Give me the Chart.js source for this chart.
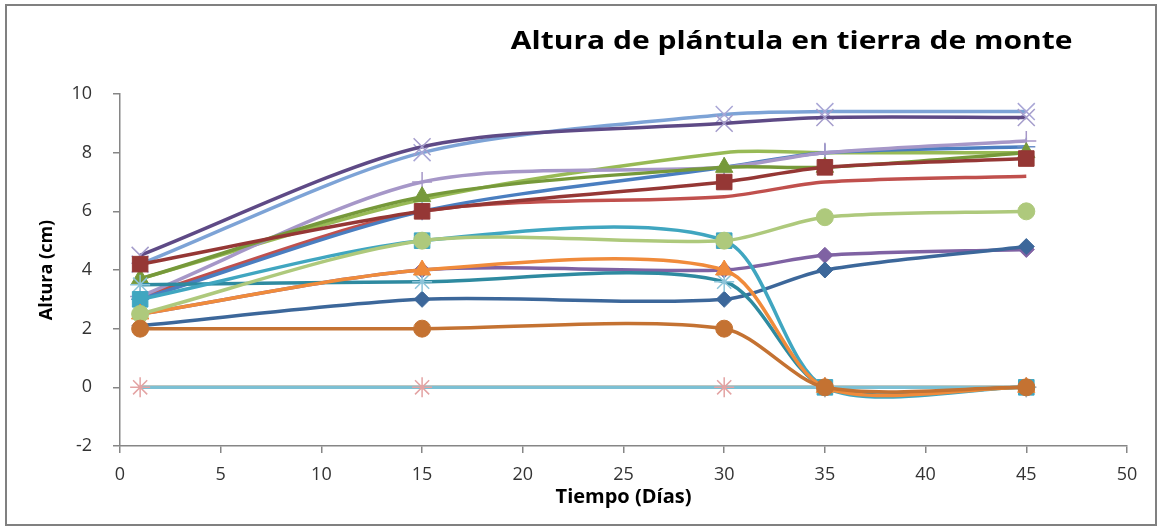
<!DOCTYPE html>
<html lang="es">
<head>
<meta charset="UTF-8">
<title>Altura de plántula en tierra de monte</title>
<script src="https://cdn.jsdelivr.net/npm/chart.js"></script>
<style>
    body {
        margin: 0;
        background: #fff;
    }

    .wrap {
        position: relative;
        width: 1161px;
        height: 527px;
    }

    .frame {
        position: absolute;
        left: 5px;
        top: 4px;
        width: 1152px;
        height: 522px;
        border: 2px solid #808080;
        box-sizing: border-box;
        pointer-events: none;
    }
</style>
</head>
<body>
<div class="wrap">
    <canvas id="chart" width="1161" height="527"></canvas>
    <div class="frame"></div>
</div>
<script>
    // Data (x = días, y = altura en cm)
    const dias = [1, 15, 30, 35, 45];

    const ceroA = [0, 0, 0, 0, 0];
    const ceroB = [0, 0, 0, 0, 0];
    const rojo = [3.1, 6, 6.5, 7, 7.2];
    const verde = [3.7, 6.4, 8, 8, 8];
    const azul = [3.0, 6, 7.5, 8, 8.2];
    const lilaClaro = [3.1, 7, 7.5, 8, 8.4];
    const azulClaro = [4.2, 8, 9.3, 9.4, 9.4];
    const moradoOscuro = [4.5, 8.2, 9, 9.2, 9.2];
    const verdeTriangulo = [3.7, 6.5, 7.5, 7.5, 8];
    const rojoCuadrado = [4.2, 6, 7, 7.5, 7.8];
    const moradoRombo = [2.5, 4, 4, 4.5, 4.7];
    const azulRombo = [2.1, 3, 3, 4, 4.8];
    const tealEstrella = [3.5, 3.6, 3.6, 0, 0];
    const aguaCuadrado = [3, 5, 5, 0, 0];
    const naranjaTriangulo = [2.5, 4, 4, 0, 0];
    const verdeClaroCirculo = [2.5, 5, 5, 5.8, 6];
    const naranjaCirculo = [2, 2, 2, 0, 0];

    const chartTitle = 'Altura de plántula en tierra de monte';
    const xTitle = 'Tiempo (Días)';
    const yTitle = 'Altura (cm)';

    // series listed bottom (drawn first) to top
    const series = [
        { label: 'Serie 1', values: ceroA, color: '#F7A56E', marker: false },
        { label: 'Serie 2', values: ceroB, color: '#7CC0D4', marker: 'star', mColor: '#E3A3A3', r: 10 },
        { label: 'Serie 3', values: rojo, color: '#C0504D', marker: false },
        { label: 'Serie 4', values: verde, color: '#98BA56', marker: false },
        { label: 'Serie 5', values: azul, color: '#4A7EC0', marker: 'cross', mColor: '#6C8FC8', r: 9 },
        { label: 'Serie 6', values: lilaClaro, color: '#A697C8', marker: 'cross', r: 10 },
        { label: 'Serie 7', values: azulClaro, color: '#7DA3D6', marker: 'crossRot', mColor: '#A9A6D6', r: 12 },
        { label: 'Serie 8', values: moradoOscuro, color: '#5E4A86', marker: 'crossRot', mColor: '#A49CCB', r: 12 },
        { label: 'Serie 9', values: verdeTriangulo, color: '#76993A', marker: 'triangle', r: 10 },
        { label: 'Serie 10', values: rojoCuadrado, color: '#953735', marker: 'rect', r: 11 },
        { label: 'Serie 11', values: moradoRombo, color: '#7F62A3', marker: 'rectRot', r: 8 },
        { label: 'Serie 12', values: azulRombo, color: '#3C679A', marker: 'rectRot', r: 8 },
        { label: 'Serie 13', values: tealEstrella, color: '#2E8AA0', marker: 'star', mColor: '#8CC4DA', r: 10 },
        { label: 'Serie 14', values: aguaCuadrado, color: '#40A6C0', marker: 'rect', r: 11 },
        { label: 'Serie 15', values: naranjaTriangulo, color: '#F08B3B', marker: 'triangle', r: 10 },
        { label: 'Serie 16', values: verdeClaroCirculo, color: '#AEC97C', marker: 'circle', r: 8.5 },
        { label: 'Serie 17', values: naranjaCirculo, color: '#C47232', marker: 'circle', r: 8.5 }
    ];

    const lineMarkers = ['star', 'cross', 'crossRot'];

    const datasets = series.map((s, i) => ({
        label: s.label,
        data: dias.map((d, j) => ({ x: d, y: s.values[j] })),
        borderColor: s.color,
        borderWidth: 3.5,
        tension: 0.28,
        fill: false,
        order: series.length - i,
        pointStyle: s.marker || 'circle',
        pointRadius: s.marker ? s.r : 0,
        pointBackgroundColor: s.mColor || s.color,
        pointBorderColor: s.mColor || s.color,
        pointBorderWidth: lineMarkers.includes(s.marker) ? 1.5 : 1
    }));

    // chart title sits right of centre and is drawn a bit wide, like the original
    const titleText = {
        id: 'titleText',
        afterDraw(chart) {
            const { ctx, chartArea } = chart;
            ctx.save();
            ctx.translate(chartArea.left + chartArea.width * 0.667, 42);
            ctx.scale(1.2, 1);
            ctx.font = 'bold 25px "Open Sans"';
            ctx.fillStyle = '#000';
            ctx.textAlign = 'center';
            ctx.textBaseline = 'middle';
            ctx.fillText(chartTitle, 0, 0);
            ctx.restore();
        }
    };

    const axisColor = '#868686';
    const tickFont = { family: '"Open Sans"', size: 18 };

    new Chart(document.getElementById('chart'), {
        type: 'line',
        data: { datasets: datasets },
        options: {
            responsive: false,
            animation: false,
            devicePixelRatio: 1,
            layout: { padding: { top: 94, right: 34, left: 0, bottom: 0 } },
            plugins: {
                legend: { display: false },
                tooltip: { enabled: false }
            },
            scales: {
                x: {
                    type: 'linear',
                    min: 0,
                    max: 50,
                    afterFit: (s) => { s.height = 81; },
                    ticks: { stepSize: 5, font: tickFont, color: '#333', padding: 11 },
                    grid: { drawOnChartArea: false, drawTicks: true, tickLength: 7, color: axisColor, lineWidth: 1.5 },
                    border: { color: axisColor, width: 1.5 },
                    title: { display: true, text: xTitle, font: { family: '"Open Sans"', size: 20, weight: 'bold' }, color: '#000', padding: { top: 0, bottom: 18 } }
                },
                y: {
                    min: -2,
                    max: 10,
                    afterFit: (s) => { s.width = 120; },
                    ticks: { stepSize: 2, font: tickFont, color: '#333', padding: 21 },
                    grid: { drawOnChartArea: false, drawTicks: true, tickLength: 7, color: axisColor, lineWidth: 1.5 },
                    border: { color: axisColor, width: 1.5 },
                    title: { display: true, text: yTitle, font: { family: '"Open Sans"', size: 18, weight: 'bold' }, color: '#000', padding: { top: 36, bottom: 0 } }
                }
            }
        },
        plugins: [titleText]
    });
</script>
</body>
</html>
